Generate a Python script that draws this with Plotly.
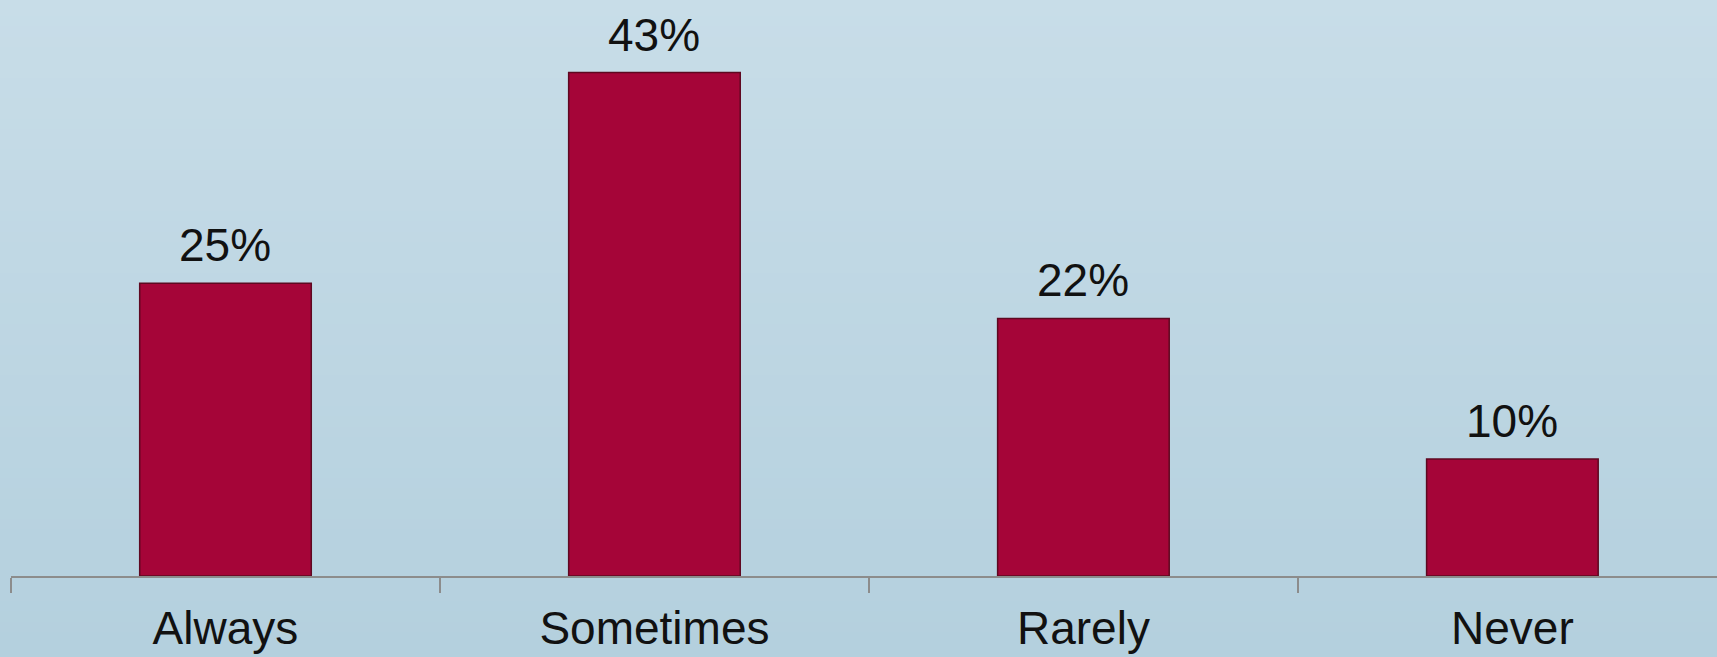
import base64, struct, zlib
import plotly.graph_objects as go

categories = ["Always", "Sometimes", "Rarely", "Never"]
values = [25, 43, 22, 10]
value_labels = ["25%", "43%", "22%", "10%"]

W, H = 1717, 657

# vertical gradient background as a tiny PNG
def make_png(w, h, top, bottom):
    rows = b""
    for j in range(h):
        t = j / (h - 1)
        c = bytes(int(round(top[k] + (bottom[k] - top[k]) * t)) for k in range(3))
        rows += b"\x00" + c * w
    def chunk(tag, data):
        return struct.pack(">I", len(data)) + tag + data + struct.pack(">I", zlib.crc32(tag + data) & 0xffffffff)
    png = b"\x89PNG\r\n\x1a\n"
    png += chunk(b"IHDR", struct.pack(">IIBBBBB", w, h, 8, 2, 0, 0, 0))
    png += chunk(b"IDAT", zlib.compress(rows))
    png += chunk(b"IEND", b"")
    return "data:image/png;base64," + base64.b64encode(png).decode()

bg = make_png(4, 64, (200, 221, 232), (180, 208, 222))

fig = go.Figure()
fig.add_trace(go.Bar(
    x=categories, y=values,
    marker=dict(color="#a50538", line=dict(color="#5e0820", width=1.5)),
    width=0.4,
))

for c, v, t in zip(categories, values, value_labels):
    fig.add_annotation(x=c, y=v, text=t, showarrow=False, yanchor="bottom",
                       yshift=10, font=dict(size=46, color="#111111",
                                            family="Liberation Sans, Arial, sans-serif"))

fig.update_layout(
    width=W, height=H,
    margin=dict(l=11, r=0, t=0, b=81),
    paper_bgcolor="#c3dae6",
    plot_bgcolor="rgba(0,0,0,0)",
    showlegend=False,
    font=dict(family="Liberation Sans, Arial, sans-serif", color="#111111"),
    xaxis=dict(showline=True, linecolor="#8c8c8c", linewidth=2,
               range=[-0.5, 3.477], automargin=False,
               ticks="outside", tickson="boundaries", ticklen=15,
               tickcolor="#8c8c8c", tickwidth=2,
               ticklabelstandoff=11,
               tickfont=dict(size=46, color="#111111"),
               showgrid=False, zeroline=False, fixedrange=True),
    yaxis=dict(range=[0, 49.2], visible=False, showgrid=False, zeroline=False,
               automargin=False),
)

fig.add_layout_image(dict(source=bg, xref="paper", yref="paper", x=-11/1706, y=1,
                          sizex=W/1706, sizey=H/576, sizing="stretch", layer="below",
                          xanchor="left", yanchor="top"))

fig.write_html("out.html")
